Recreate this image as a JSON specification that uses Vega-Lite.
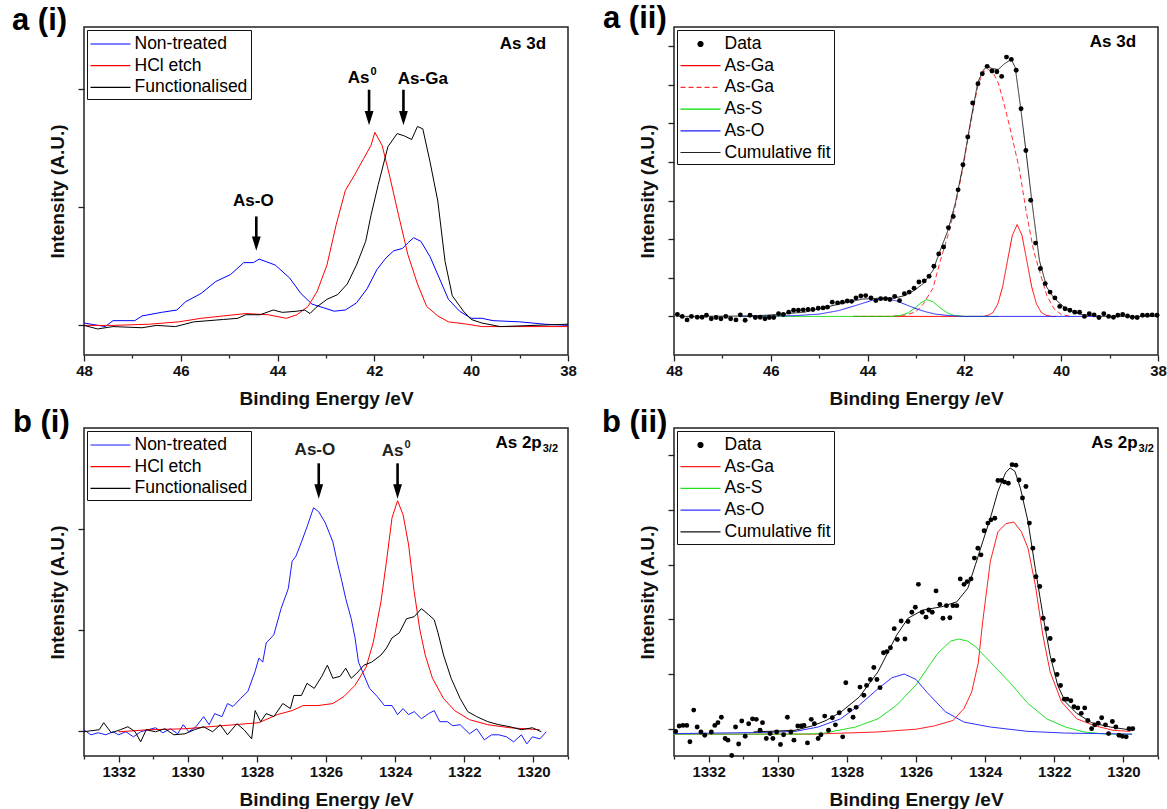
{
"$schema": "https://vega.github.io/schema/vega-lite/v6.json",
"background": "white",
"padding": {"left": 11, "top": 2, "right": 0, "bottom": 0},
"columns": 2,
"spacing": {"row": -3, "column": 23},
"config": {
  "font": "Liberation Sans",
  "view": {"stroke": "#222", "strokeWidth": 1.5},
  "axis": {"domain": false, "grid": false, "tickColor": "#222", "tickWidth": 1.3, "labelFont": "Liberation Sans", "labelFontSize": 15, "labelFontWeight": "bold", "labelColor": "#111", "titleFont": "Liberation Sans", "titleFontSize": 19, "titleFontWeight": "bold", "titleColor": "#111", "labelFlush": false},
  "axisX": {"titlePadding": 11, "labelPadding": 2},
  "axisY": {"titlePadding": 10, "tickSize": 6},
  "legend": {"orient": "top-left", "offset": 3, "strokeColor": "#111", "fillColor": "#ffffff", "padding": 3, "labelFont": "Liberation Sans", "labelFontSize": 17.5, "labelColor": "#000", "symbolSize": 400, "symbolOffset": 19.5, "labelOffset": 3, "rowPadding": 1.7, "symbolStrokeWidth": 1.2, "cornerRadius": 0, "symbolType": "M-3,0H1"},
  "title": {"font": "Liberation Sans", "fontSize": 31, "fontWeight": "bold", "color": "#000", "anchor": "start", "frame": "group", "offset": 0, "baseline": "alphabetic"}
},
"resolve": {"scale": {"x": "independent", "y": "independent", "color": "independent", "strokeDash": "independent"}, "legend": {"color": "independent"}},
"datasets": {
"a1": [
{"s":"Non-treated","x":48,"y":0.02},{"s":"Non-treated","x":47.56,"y":-0.01},{"s":"Non-treated","x":47.4,"y":0.04},{"s":"Non-treated","x":46.95,"y":0.04},{"s":"Non-treated","x":46.8,"y":0.08},{"s":"Non-treated","x":46.4,"y":0.11},{"s":"Non-treated","x":46.08,"y":0.13},{"s":"Non-treated","x":45.9,"y":0.2},{"s":"Non-treated","x":45.58,"y":0.27},{"s":"Non-treated","x":45.28,"y":0.37},{"s":"Non-treated","x":44.97,"y":0.43},{"s":"Non-treated","x":44.7,"y":0.53},{"s":"Non-treated","x":44.5,"y":0.53},{"s":"Non-treated","x":44.38,"y":0.56},{"s":"Non-treated","x":44.05,"y":0.51},{"s":"Non-treated","x":43.75,"y":0.4},{"s":"Non-treated","x":43.52,"y":0.27},{"s":"Non-treated","x":43.29,"y":0.18},{"s":"Non-treated","x":43.06,"y":0.15},{"s":"Non-treated","x":42.83,"y":0.12},{"s":"Non-treated","x":42.6,"y":0.13},{"s":"Non-treated","x":42.37,"y":0.19},{"s":"Non-treated","x":42.15,"y":0.31},{"s":"Non-treated","x":41.95,"y":0.47},{"s":"Non-treated","x":41.76,"y":0.57},{"s":"Non-treated","x":41.6,"y":0.63},{"s":"Non-treated","x":41.42,"y":0.65},{"s":"Non-treated","x":41.3,"y":0.7},{"s":"Non-treated","x":41.19,"y":0.74},{"s":"Non-treated","x":41.04,"y":0.71},{"s":"Non-treated","x":40.85,"y":0.58},{"s":"Non-treated","x":40.66,"y":0.4},{"s":"Non-treated","x":40.47,"y":0.22},{"s":"Non-treated","x":40.24,"y":0.12},{"s":"Non-treated","x":40.0,"y":0.06},{"s":"Non-treated","x":39.78,"y":0.06},{"s":"Non-treated","x":39.55,"y":0.04},{"s":"Non-treated","x":39.0,"y":0.03},{"s":"Non-treated","x":38.48,"y":0.01},{"s":"Non-treated","x":38,"y":0},
{"s":"HCl etch","x":48,"y":0},{"s":"HCl etch","x":47.4,"y":0},{"s":"HCl etch","x":46.65,"y":0.01},{"s":"HCl etch","x":46.04,"y":0.03},{"s":"HCl etch","x":45.58,"y":0.06},{"s":"HCl etch","x":45.12,"y":0.08},{"s":"HCl etch","x":44.66,"y":0.1},{"s":"HCl etch","x":44.2,"y":0.09},{"s":"HCl etch","x":43.82,"y":0.06},{"s":"HCl etch","x":43.6,"y":0.09},{"s":"HCl etch","x":43.37,"y":0.16},{"s":"HCl etch","x":43.18,"y":0.29},{"s":"HCl etch","x":42.98,"y":0.51},{"s":"HCl etch","x":42.79,"y":0.85},{"s":"HCl etch","x":42.6,"y":1.14},{"s":"HCl etch","x":42.41,"y":1.27},{"s":"HCl etch","x":42.22,"y":1.41},{"s":"HCl etch","x":42.07,"y":1.52},{"s":"HCl etch","x":41.99,"y":1.63},{"s":"HCl etch","x":41.84,"y":1.52},{"s":"HCl etch","x":41.69,"y":1.27},{"s":"HCl etch","x":41.5,"y":0.93},{"s":"HCl etch","x":41.31,"y":0.6},{"s":"HCl etch","x":41.11,"y":0.35},{"s":"HCl etch","x":40.92,"y":0.16},{"s":"HCl etch","x":40.69,"y":0.08},{"s":"HCl etch","x":40.47,"y":0.03},{"s":"HCl etch","x":40.08,"y":0.01},{"s":"HCl etch","x":39.78,"y":-0.01},{"s":"HCl etch","x":38,"y":-0.01},
{"s":"Functionalised","x":48,"y":0},{"s":"Functionalised","x":47.72,"y":-0.03},{"s":"Functionalised","x":47.4,"y":-0.01},{"s":"Functionalised","x":46.8,"y":-0.02},{"s":"Functionalised","x":46.5,"y":0},{"s":"Functionalised","x":46.11,"y":-0.01},{"s":"Functionalised","x":45.73,"y":0.03},{"s":"Functionalised","x":45.12,"y":0.05},{"s":"Functionalised","x":44.82,"y":0.06},{"s":"Functionalised","x":44.66,"y":0.09},{"s":"Functionalised","x":44.36,"y":0.09},{"s":"Functionalised","x":44.09,"y":0.13},{"s":"Functionalised","x":43.9,"y":0.11},{"s":"Functionalised","x":43.6,"y":0.12},{"s":"Functionalised","x":43.44,"y":0.13},{"s":"Functionalised","x":43.33,"y":0.1},{"s":"Functionalised","x":43.21,"y":0.15},{"s":"Functionalised","x":42.98,"y":0.22},{"s":"Functionalised","x":42.76,"y":0.26},{"s":"Functionalised","x":42.56,"y":0.35},{"s":"Functionalised","x":42.37,"y":0.51},{"s":"Functionalised","x":42.18,"y":0.71},{"s":"Functionalised","x":42.07,"y":0.93},{"s":"Functionalised","x":41.92,"y":1.19},{"s":"Functionalised","x":41.72,"y":1.51},{"s":"Functionalised","x":41.53,"y":1.62},{"s":"Functionalised","x":41.38,"y":1.6},{"s":"Functionalised","x":41.23,"y":1.57},{"s":"Functionalised","x":41.11,"y":1.68},{"s":"Functionalised","x":41.0,"y":1.66},{"s":"Functionalised","x":40.85,"y":1.38},{"s":"Functionalised","x":40.69,"y":1.05},{"s":"Functionalised","x":40.54,"y":0.54},{"s":"Functionalised","x":40.39,"y":0.25},{"s":"Functionalised","x":40.16,"y":0.12},{"s":"Functionalised","x":40.0,"y":0.05},{"s":"Functionalised","x":39.78,"y":0.02},{"s":"Functionalised","x":39.4,"y":-0.01},{"s":"Functionalised","x":38,"y":0.01}
],
"a1t": [{"t":"As-O","x":44.5,"y":1.05},{"t":"As-Ga","x":41.0,"y":2.08},{"t":"As 3d","x":38.93,"y":2.38}],
"a1s": [{"t":"As","u":"0","x":42.1,"y":2.09}],
"a1r": [{"x":44.44,"y":0.92,"y2":0.63},{"x":42.11,"y":1.99,"y2":1.69},{"x":41.4,"y":1.99,"y2":1.69}],
"a2": [
{"s":"Data","x":47.93,"y":0.05},{"s":"Data","x":47.83,"y":0},{"s":"Data","x":47.73,"y":-0.09},{"s":"Data","x":47.64,"y":0},{"s":"Data","x":47.52,"y":-0.02},{"s":"Data","x":47.42,"y":-0.02},{"s":"Data","x":47.33,"y":0.03},{"s":"Data","x":47.23,"y":-0.06},{"s":"Data","x":47.13,"y":-0.03},{"s":"Data","x":47.03,"y":-0.06},{"s":"Data","x":46.93,"y":0},{"s":"Data","x":46.83,"y":-0.06},{"s":"Data","x":46.72,"y":-0.09},{"s":"Data","x":46.63,"y":0.04},{"s":"Data","x":46.53,"y":-0.1},{"s":"Data","x":46.43,"y":0.03},{"s":"Data","x":46.32,"y":-0.03},{"s":"Data","x":46.22,"y":-0.02},{"s":"Data","x":46.12,"y":-0.06},{"s":"Data","x":46.03,"y":-0.03},{"s":"Data","x":45.94,"y":-0.03},{"s":"Data","x":45.84,"y":0.07},{"s":"Data","x":45.74,"y":0.05},{"s":"Data","x":45.63,"y":0.11},{"s":"Data","x":45.53,"y":0.16},{"s":"Data","x":45.43,"y":0.16},{"s":"Data","x":45.33,"y":0.17},{"s":"Data","x":45.23,"y":0.18},{"s":"Data","x":45.13,"y":0.18},{"s":"Data","x":45.02,"y":0.21},{"s":"Data","x":44.92,"y":0.22},{"s":"Data","x":44.83,"y":0.24},{"s":"Data","x":44.73,"y":0.37},{"s":"Data","x":44.62,"y":0.35},{"s":"Data","x":44.52,"y":0.37},{"s":"Data","x":44.42,"y":0.4},{"s":"Data","x":44.33,"y":0.39},{"s":"Data","x":44.24,"y":0.48},{"s":"Data","x":44.14,"y":0.53},{"s":"Data","x":44.04,"y":0.54},{"s":"Data","x":43.93,"y":0.48},{"s":"Data","x":43.83,"y":0.41},{"s":"Data","x":43.73,"y":0.46},{"s":"Data","x":43.63,"y":0.46},{"s":"Data","x":43.54,"y":0.44},{"s":"Data","x":43.44,"y":0.52},{"s":"Data","x":43.34,"y":0.41},{"s":"Data","x":43.24,"y":0.59},{"s":"Data","x":43.14,"y":0.63},{"s":"Data","x":43.04,"y":0.73},{"s":"Data","x":42.94,"y":0.89},{"s":"Data","x":42.83,"y":0.92},{"s":"Data","x":42.73,"y":1.04},{"s":"Data","x":42.63,"y":1.3},{"s":"Data","x":42.53,"y":1.62},{"s":"Data","x":42.43,"y":1.8},{"s":"Data","x":42.33,"y":2.3},{"s":"Data","x":42.23,"y":2.59},{"s":"Data","x":42.13,"y":3.28},{"s":"Data","x":42.03,"y":3.93},{"s":"Data","x":41.93,"y":4.65},{"s":"Data","x":41.83,"y":5.53},{"s":"Data","x":41.72,"y":6.03},{"s":"Data","x":41.63,"y":6.29},{"s":"Data","x":41.53,"y":6.48},{"s":"Data","x":41.43,"y":6.36},{"s":"Data","x":41.33,"y":6.34},{"s":"Data","x":41.23,"y":6.22},{"s":"Data","x":41.13,"y":6.72},{"s":"Data","x":41.03,"y":6.66},{"s":"Data","x":40.93,"y":6.38},{"s":"Data","x":40.83,"y":5.38},{"s":"Data","x":40.73,"y":4.3},{"s":"Data","x":40.63,"y":3.01},{"s":"Data","x":40.53,"y":1.9},{"s":"Data","x":40.43,"y":1.24},{"s":"Data","x":40.33,"y":0.85},{"s":"Data","x":40.23,"y":0.63},{"s":"Data","x":40.13,"y":0.48},{"s":"Data","x":40.03,"y":0.26},{"s":"Data","x":39.92,"y":0.2},{"s":"Data","x":39.82,"y":0.16},{"s":"Data","x":39.72,"y":0.11},{"s":"Data","x":39.62,"y":0.11},{"s":"Data","x":39.52,"y":0},{"s":"Data","x":39.42,"y":0.07},{"s":"Data","x":39.32,"y":0.04},{"s":"Data","x":39.22,"y":-0.03},{"s":"Data","x":39.12,"y":0.07},{"s":"Data","x":39.02,"y":0},{"s":"Data","x":38.92,"y":-0.02},{"s":"Data","x":38.83,"y":0.03},{"s":"Data","x":38.73,"y":0.05},{"s":"Data","x":38.63,"y":0.01},{"s":"Data","x":38.53,"y":-0.02},{"s":"Data","x":38.43,"y":-0.03},{"s":"Data","x":38.32,"y":0.03},{"s":"Data","x":38.22,"y":0.03},{"s":"Data","x":38.12,"y":0.04},{"s":"Data","x":38.02,"y":0.03},
{"s":"As-Ga","x":44.3,"y":0},{"s":"As-Ga","x":41.6,"y":0},{"s":"As-Ga","x":41.51,"y":0.03},{"s":"As-Ga","x":41.41,"y":0.1},{"s":"As-Ga","x":41.31,"y":0.32},{"s":"As-Ga","x":41.21,"y":0.77},{"s":"As-Ga","x":41.11,"y":1.44},{"s":"As-Ga","x":41.01,"y":2.1},{"s":"As-Ga","x":40.91,"y":2.38},{"s":"As-Ga","x":40.81,"y":2.1},{"s":"As-Ga","x":40.71,"y":1.44},{"s":"As-Ga","x":40.61,"y":0.77},{"s":"As-Ga","x":40.51,"y":0.32},{"s":"As-Ga","x":40.41,"y":0.1},{"s":"As-Ga","x":40.31,"y":0.03},{"s":"As-Ga","x":40.2,"y":0},{"s":"As-Ga","x":40.1,"y":0},
{"s":"As-Ga ","x":44.3,"y":0},{"s":"As-Ga ","x":43.5,"y":0},{"s":"As-Ga ","x":43.2,"y":0.04},{"s":"As-Ga ","x":43.0,"y":0.12},{"s":"As-Ga ","x":42.85,"y":0.32},{"s":"As-Ga ","x":42.65,"y":0.73},{"s":"As-Ga ","x":42.5,"y":1.43},{"s":"As-Ga ","x":42.34,"y":2.1},{"s":"As-Ga ","x":42.19,"y":2.85},{"s":"As-Ga ","x":42.03,"y":3.85},{"s":"As-Ga ","x":41.88,"y":4.95},{"s":"As-Ga ","x":41.72,"y":6.0},{"s":"As-Ga ","x":41.6,"y":6.35},{"s":"As-Ga ","x":41.5,"y":6.4},{"s":"As-Ga ","x":41.4,"y":6.3},{"s":"As-Ga ","x":41.3,"y":6.05},{"s":"As-Ga ","x":41.2,"y":5.6},{"s":"As-Ga ","x":41.07,"y":4.95},{"s":"As-Ga ","x":40.87,"y":3.85},{"s":"As-Ga ","x":40.72,"y":2.7},{"s":"As-Ga ","x":40.57,"y":1.7},{"s":"As-Ga ","x":40.43,"y":1.1},{"s":"As-Ga ","x":40.3,"y":0.55},{"s":"As-Ga ","x":40.15,"y":0.2},{"s":"As-Ga ","x":40.0,"y":0.05},{"s":"As-Ga ","x":39.8,"y":0},
{"s":"As-S","x":46.6,"y":0},{"s":"As-S","x":43.5,"y":0},{"s":"As-S","x":43.3,"y":0.03},{"s":"As-S","x":43.15,"y":0.1},{"s":"As-S","x":43.0,"y":0.24},{"s":"As-S","x":42.9,"y":0.35},{"s":"As-S","x":42.78,"y":0.44},{"s":"As-S","x":42.65,"y":0.38},{"s":"As-S","x":42.5,"y":0.22},{"s":"As-S","x":42.35,"y":0.09},{"s":"As-S","x":42.2,"y":0.02},{"s":"As-S","x":42.0,"y":0},{"s":"As-S","x":41.3,"y":0},
{"s":"As-O","x":46.6,"y":0},{"s":"As-O","x":45.5,"y":0.02},{"s":"As-O","x":45.0,"y":0.06},{"s":"As-O","x":44.6,"y":0.15},{"s":"As-O","x":44.2,"y":0.3},{"s":"As-O","x":43.9,"y":0.42},{"s":"As-O","x":43.62,"y":0.46},{"s":"As-O","x":43.4,"y":0.4},{"s":"As-O","x":43.2,"y":0.3},{"s":"As-O","x":43.0,"y":0.2},{"s":"As-O","x":42.8,"y":0.12},{"s":"As-O","x":42.6,"y":0.06},{"s":"As-O","x":42.3,"y":0.02},{"s":"As-O","x":42.0,"y":0},{"s":"As-O","x":39.2,"y":0},
{"s":"Cumulative fit","x":47.9,"y":0},{"s":"Cumulative fit","x":46.5,"y":0.01},{"s":"Cumulative fit","x":46.1,"y":0.03},{"s":"Cumulative fit","x":45.3,"y":0.11},{"s":"Cumulative fit","x":44.55,"y":0.33},{"s":"Cumulative fit","x":44.1,"y":0.45},{"s":"Cumulative fit","x":43.77,"y":0.47},{"s":"Cumulative fit","x":43.46,"y":0.47},{"s":"Cumulative fit","x":43.23,"y":0.54},{"s":"Cumulative fit","x":43.04,"y":0.67},{"s":"Cumulative fit","x":42.85,"y":0.85},{"s":"Cumulative fit","x":42.65,"y":1.19},{"s":"Cumulative fit","x":42.5,"y":1.71},{"s":"Cumulative fit","x":42.34,"y":2.23},{"s":"Cumulative fit","x":42.19,"y":2.92},{"s":"Cumulative fit","x":42.03,"y":3.9},{"s":"Cumulative fit","x":41.88,"y":5.0},{"s":"Cumulative fit","x":41.72,"y":6.08},{"s":"Cumulative fit","x":41.6,"y":6.4},{"s":"Cumulative fit","x":41.53,"y":6.47},{"s":"Cumulative fit","x":41.42,"y":6.42},{"s":"Cumulative fit","x":41.3,"y":6.4},{"s":"Cumulative fit","x":41.17,"y":6.55},{"s":"Cumulative fit","x":41.03,"y":6.66},{"s":"Cumulative fit","x":40.95,"y":6.45},{"s":"Cumulative fit","x":40.84,"y":5.43},{"s":"Cumulative fit","x":40.72,"y":4.2},{"s":"Cumulative fit","x":40.6,"y":2.92},{"s":"Cumulative fit","x":40.45,"y":1.45},{"s":"Cumulative fit","x":40.3,"y":0.76},{"s":"Cumulative fit","x":40.14,"y":0.46},{"s":"Cumulative fit","x":39.9,"y":0.2},{"s":"Cumulative fit","x":39.6,"y":0.05},{"s":"Cumulative fit","x":39.2,"y":0},{"s":"Cumulative fit","x":38.0,"y":0}
],
"a2t": [{"t":"As 3d","x":38.93,"y":7.11}],
"b1": [
{"s":"Non-treated","x":1333.0,"y":0.01},{"s":"Non-treated","x":1332.8,"y":-0.04},{"s":"Non-treated","x":1332.59,"y":-0.02},{"s":"Non-treated","x":1332.37,"y":-0.04},{"s":"Non-treated","x":1332.16,"y":-0.01},{"s":"Non-treated","x":1332.0,"y":-0.04},{"s":"Non-treated","x":1331.79,"y":-0.01},{"s":"Non-treated","x":1331.57,"y":-0.06},{"s":"Non-treated","x":1331.36,"y":-0.01},{"s":"Non-treated","x":1331.15,"y":0.01},{"s":"Non-treated","x":1330.93,"y":0.03},{"s":"Non-treated","x":1330.72,"y":-0.02},{"s":"Non-treated","x":1330.5,"y":0.02},{"s":"Non-treated","x":1330.29,"y":-0.03},{"s":"Non-treated","x":1330.13,"y":0.06},{"s":"Non-treated","x":1329.97,"y":-0.01},{"s":"Non-treated","x":1329.76,"y":0.04},{"s":"Non-treated","x":1329.54,"y":0.14},{"s":"Non-treated","x":1329.38,"y":0.06},{"s":"Non-treated","x":1329.22,"y":0.17},{"s":"Non-treated","x":1329.01,"y":0.14},{"s":"Non-treated","x":1328.85,"y":0.27},{"s":"Non-treated","x":1328.69,"y":0.24},{"s":"Non-treated","x":1328.47,"y":0.32},{"s":"Non-treated","x":1328.26,"y":0.39},{"s":"Non-treated","x":1328.05,"y":0.59},{"s":"Non-treated","x":1327.94,"y":0.72},{"s":"Non-treated","x":1327.83,"y":0.68},{"s":"Non-treated","x":1327.73,"y":0.87},{"s":"Non-treated","x":1327.51,"y":0.95},{"s":"Non-treated","x":1327.3,"y":1.21},{"s":"Non-treated","x":1327.09,"y":1.41},{"s":"Non-treated","x":1326.98,"y":1.68},{"s":"Non-treated","x":1326.87,"y":1.73},{"s":"Non-treated","x":1326.71,"y":1.87},{"s":"Non-treated","x":1326.55,"y":2.02},{"s":"Non-treated","x":1326.36,"y":2.21},{"s":"Non-treated","x":1326.21,"y":2.17},{"s":"Non-treated","x":1326.02,"y":2.06},{"s":"Non-treated","x":1325.8,"y":1.87},{"s":"Non-treated","x":1325.7,"y":1.71},{"s":"Non-treated","x":1325.54,"y":1.48},{"s":"Non-treated","x":1325.43,"y":1.31},{"s":"Non-treated","x":1325.27,"y":1.11},{"s":"Non-treated","x":1325.16,"y":0.92},{"s":"Non-treated","x":1325.06,"y":0.68},{"s":"Non-treated","x":1324.95,"y":0.59},{"s":"Non-treated","x":1324.74,"y":0.42},{"s":"Non-treated","x":1324.52,"y":0.34},{"s":"Non-treated","x":1324.31,"y":0.25},{"s":"Non-treated","x":1324.09,"y":0.25},{"s":"Non-treated","x":1323.93,"y":0.16},{"s":"Non-treated","x":1323.77,"y":0.22},{"s":"Non-treated","x":1323.61,"y":0.16},{"s":"Non-treated","x":1323.45,"y":0.19},{"s":"Non-treated","x":1323.24,"y":0.12},{"s":"Non-treated","x":1323.03,"y":0.17},{"s":"Non-treated","x":1322.87,"y":0.2},{"s":"Non-treated","x":1322.71,"y":0.09},{"s":"Non-treated","x":1322.49,"y":0.09},{"s":"Non-treated","x":1322.33,"y":0.05},{"s":"Non-treated","x":1322.12,"y":0.06},{"s":"Non-treated","x":1321.85,"y":-0.03},{"s":"Non-treated","x":1321.64,"y":0.02},{"s":"Non-treated","x":1321.42,"y":-0.09},{"s":"Non-treated","x":1321.21,"y":-0.04},{"s":"Non-treated","x":1321.0,"y":-0.04},{"s":"Non-treated","x":1320.78,"y":-0.06},{"s":"Non-treated","x":1320.57,"y":-0.11},{"s":"Non-treated","x":1320.35,"y":-0.04},{"s":"Non-treated","x":1320.19,"y":-0.13},{"s":"Non-treated","x":1320.03,"y":-0.06},{"s":"Non-treated","x":1319.81,"y":-0.08},{"s":"Non-treated","x":1319.63,"y":-0.01},
{"s":"HCl etch","x":1332.0,"y":-0.01},{"s":"HCl etch","x":1331.15,"y":0.01},{"s":"HCl etch","x":1330.08,"y":0.02},{"s":"HCl etch","x":1329.01,"y":0.05},{"s":"HCl etch","x":1327.94,"y":0.08},{"s":"HCl etch","x":1327.41,"y":0.16},{"s":"HCl etch","x":1326.98,"y":0.2},{"s":"HCl etch","x":1326.66,"y":0.25},{"s":"HCl etch","x":1326.23,"y":0.25},{"s":"HCl etch","x":1325.8,"y":0.27},{"s":"HCl etch","x":1325.48,"y":0.34},{"s":"HCl etch","x":1325.16,"y":0.45},{"s":"HCl etch","x":1324.84,"y":0.63},{"s":"HCl etch","x":1324.63,"y":0.88},{"s":"HCl etch","x":1324.41,"y":1.28},{"s":"HCl etch","x":1324.25,"y":1.68},{"s":"HCl etch","x":1324.09,"y":2.11},{"s":"HCl etch","x":1323.93,"y":2.28},{"s":"HCl etch","x":1323.77,"y":2.14},{"s":"HCl etch","x":1323.61,"y":1.84},{"s":"HCl etch","x":1323.45,"y":1.38},{"s":"HCl etch","x":1323.29,"y":1.01},{"s":"HCl etch","x":1323.13,"y":0.75},{"s":"HCl etch","x":1322.92,"y":0.52},{"s":"HCl etch","x":1322.6,"y":0.32},{"s":"HCl etch","x":1322.28,"y":0.2},{"s":"HCl etch","x":1321.85,"y":0.11},{"s":"HCl etch","x":1321.32,"y":0.06},{"s":"HCl etch","x":1320.68,"y":0.03},{"s":"HCl etch","x":1319.82,"y":0.01},
{"s":"Functionalised","x":1333.0,"y":-0.01},{"s":"Functionalised","x":1332.8,"y":0},{"s":"Functionalised","x":1332.56,"y":0.01},{"s":"Functionalised","x":1332.43,"y":0.08},{"s":"Functionalised","x":1332.21,"y":-0.02},{"s":"Functionalised","x":1331.95,"y":0.01},{"s":"Functionalised","x":1331.73,"y":0.04},{"s":"Functionalised","x":1331.52,"y":-0.01},{"s":"Functionalised","x":1331.36,"y":-0.11},{"s":"Functionalised","x":1331.2,"y":0.01},{"s":"Functionalised","x":1330.93,"y":-0.01},{"s":"Functionalised","x":1330.66,"y":0.02},{"s":"Functionalised","x":1330.4,"y":-0.04},{"s":"Functionalised","x":1330.08,"y":-0.03},{"s":"Functionalised","x":1329.81,"y":0.01},{"s":"Functionalised","x":1329.54,"y":0.04},{"s":"Functionalised","x":1329.28,"y":-0.01},{"s":"Functionalised","x":1329.06,"y":0.06},{"s":"Functionalised","x":1328.85,"y":-0.04},{"s":"Functionalised","x":1328.58,"y":0.07},{"s":"Functionalised","x":1328.37,"y":0.01},{"s":"Functionalised","x":1328.15,"y":-0.08},{"s":"Functionalised","x":1328.05,"y":0.2},{"s":"Functionalised","x":1327.89,"y":0.09},{"s":"Functionalised","x":1327.73,"y":0.17},{"s":"Functionalised","x":1327.51,"y":0.14},{"s":"Functionalised","x":1327.25,"y":0.27},{"s":"Functionalised","x":1327.03,"y":0.22},{"s":"Functionalised","x":1326.93,"y":0.35},{"s":"Functionalised","x":1326.71,"y":0.35},{"s":"Functionalised","x":1326.55,"y":0.47},{"s":"Functionalised","x":1326.34,"y":0.42},{"s":"Functionalised","x":1326.12,"y":0.54},{"s":"Functionalised","x":1325.96,"y":0.65},{"s":"Functionalised","x":1325.8,"y":0.52},{"s":"Functionalised","x":1325.59,"y":0.54},{"s":"Functionalised","x":1325.43,"y":0.62},{"s":"Functionalised","x":1325.27,"y":0.52},{"s":"Functionalised","x":1325.11,"y":0.57},{"s":"Functionalised","x":1324.9,"y":0.65},{"s":"Functionalised","x":1324.68,"y":0.68},{"s":"Functionalised","x":1324.41,"y":0.75},{"s":"Functionalised","x":1324.25,"y":0.82},{"s":"Functionalised","x":1324.09,"y":0.92},{"s":"Functionalised","x":1323.88,"y":0.97},{"s":"Functionalised","x":1323.67,"y":1.11},{"s":"Functionalised","x":1323.45,"y":1.13},{"s":"Functionalised","x":1323.24,"y":1.21},{"s":"Functionalised","x":1323.03,"y":1.15},{"s":"Functionalised","x":1322.87,"y":1.1},{"s":"Functionalised","x":1322.76,"y":0.97},{"s":"Functionalised","x":1322.6,"y":0.75},{"s":"Functionalised","x":1322.38,"y":0.52},{"s":"Functionalised","x":1322.12,"y":0.32},{"s":"Functionalised","x":1321.9,"y":0.19},{"s":"Functionalised","x":1321.64,"y":0.14},{"s":"Functionalised","x":1321.32,"y":0.09},{"s":"Functionalised","x":1321.0,"y":0.06},{"s":"Functionalised","x":1320.68,"y":0.04},{"s":"Functionalised","x":1320.35,"y":0.01},{"s":"Functionalised","x":1320.03,"y":0.03},{"s":"Functionalised","x":1319.77,"y":-0.01}
],
"b1t": [{"t":"As-O","x":1326.32,"y":2.78}],
"b1s": [{"t":"As","u":"0","x":1323.76,"y":2.77}],
"b1u": [{"t":"As 2p","u":"3/2","x":1319.76,"y":2.85}],
"b1r": [{"x":1326.21,"y":2.65,"y2":2.3},{"x":1323.93,"y":2.65,"y2":2.3}],
"b2": [
{"s":"Data","x":1332.95,"y":-0.05},{"s":"Data","x":1332.85,"y":0.05},{"s":"Data","x":1332.74,"y":0.06},{"s":"Data","x":1332.63,"y":0.06},{"s":"Data","x":1332.54,"y":-0.24},{"s":"Data","x":1332.43,"y":0.34},{"s":"Data","x":1332.33,"y":0.03},{"s":"Data","x":1332.22,"y":-0.06},{"s":"Data","x":1332.11,"y":-0.12},{"s":"Data","x":1331.92,"y":-0.06},{"s":"Data","x":1331.82,"y":0.06},{"s":"Data","x":1331.73,"y":0.11},{"s":"Data","x":1331.63,"y":0.21},{"s":"Data","x":1331.52,"y":-0.18},{"s":"Data","x":1331.44,"y":-0.21},{"s":"Data","x":1331.33,"y":-0.49},{"s":"Data","x":1331.22,"y":0.03},{"s":"Data","x":1331.13,"y":-0.28},{"s":"Data","x":1331.04,"y":0.14},{"s":"Data","x":1330.94,"y":-0.14},{"s":"Data","x":1330.84,"y":0.09},{"s":"Data","x":1330.73,"y":0.18},{"s":"Data","x":1330.62,"y":0.17},{"s":"Data","x":1330.51,"y":-0.03},{"s":"Data","x":1330.44,"y":0.11},{"s":"Data","x":1330.33,"y":-0.18},{"s":"Data","x":1330.22,"y":-0.09},{"s":"Data","x":1330.14,"y":-0.18},{"s":"Data","x":1330.03,"y":-0.06},{"s":"Data","x":1329.92,"y":-0.29},{"s":"Data","x":1329.83,"y":-0.11},{"s":"Data","x":1329.72,"y":0.21},{"s":"Data","x":1329.62,"y":-0.06},{"s":"Data","x":1329.53,"y":-0.21},{"s":"Data","x":1329.42,"y":0.05},{"s":"Data","x":1329.32,"y":0.05},{"s":"Data","x":1329.24,"y":0.06},{"s":"Data","x":1329.14,"y":-0.26},{"s":"Data","x":1329.03,"y":0.17},{"s":"Data","x":1328.94,"y":0.09},{"s":"Data","x":1328.83,"y":-0.18},{"s":"Data","x":1328.75,"y":-0.11},{"s":"Data","x":1328.64,"y":0.23},{"s":"Data","x":1328.53,"y":-0.03},{"s":"Data","x":1328.42,"y":0.2},{"s":"Data","x":1328.33,"y":0.07},{"s":"Data","x":1328.22,"y":0.29},{"s":"Data","x":1328.12,"y":-0.15},{"s":"Data","x":1328.03,"y":0.84},{"s":"Data","x":1327.92,"y":0.34},{"s":"Data","x":1327.82,"y":0.21},{"s":"Data","x":1327.73,"y":0.39},{"s":"Data","x":1327.62,"y":0.76},{"s":"Data","x":1327.51,"y":0.61},{"s":"Data","x":1327.43,"y":0.79},{"s":"Data","x":1327.32,"y":0.9},{"s":"Data","x":1327.22,"y":1.12},{"s":"Data","x":1327.13,"y":0.9},{"s":"Data","x":1327.04,"y":0.75},{"s":"Data","x":1326.94,"y":1.39},{"s":"Data","x":1326.84,"y":1.41},{"s":"Data","x":1326.74,"y":1.48},{"s":"Data","x":1326.63,"y":1.83},{"s":"Data","x":1326.54,"y":1.63},{"s":"Data","x":1326.43,"y":1.97},{"s":"Data","x":1326.32,"y":1.64},{"s":"Data","x":1326.23,"y":1.96},{"s":"Data","x":1326.12,"y":2.13},{"s":"Data","x":1326.02,"y":2.22},{"s":"Data","x":1325.93,"y":2.64},{"s":"Data","x":1325.82,"y":2.13},{"s":"Data","x":1325.71,"y":2.04},{"s":"Data","x":1325.63,"y":2.17},{"s":"Data","x":1325.53,"y":2.13},{"s":"Data","x":1325.42,"y":2.52},{"s":"Data","x":1325.31,"y":2.27},{"s":"Data","x":1325.22,"y":2.02},{"s":"Data","x":1325.12,"y":2.25},{"s":"Data","x":1325.02,"y":2.03},{"s":"Data","x":1324.93,"y":2.25},{"s":"Data","x":1324.82,"y":2.25},{"s":"Data","x":1324.72,"y":2.74},{"s":"Data","x":1324.61,"y":2.64},{"s":"Data","x":1324.52,"y":2.69},{"s":"Data","x":1324.41,"y":2.74},{"s":"Data","x":1324.31,"y":3.12},{"s":"Data","x":1324.21,"y":3.3},{"s":"Data","x":1324.12,"y":3.18},{"s":"Data","x":1324.03,"y":3.62},{"s":"Data","x":1323.92,"y":3.76},{"s":"Data","x":1323.83,"y":3.82},{"s":"Data","x":1323.72,"y":3.85},{"s":"Data","x":1323.63,"y":4.54},{"s":"Data","x":1323.52,"y":4.54},{"s":"Data","x":1323.44,"y":4.51},{"s":"Data","x":1323.33,"y":4.49},{"s":"Data","x":1323.22,"y":4.83},{"s":"Data","x":1323.11,"y":4.82},{"s":"Data","x":1323.02,"y":4.55},{"s":"Data","x":1322.92,"y":4.22},{"s":"Data","x":1322.82,"y":4.43},{"s":"Data","x":1322.72,"y":3.76},{"s":"Data","x":1322.62,"y":3.3},{"s":"Data","x":1322.53,"y":2.78},{"s":"Data","x":1322.42,"y":2.6},{"s":"Data","x":1322.32,"y":2.02},{"s":"Data","x":1322.22,"y":1.83},{"s":"Data","x":1322.12,"y":1.65},{"s":"Data","x":1322.03,"y":1.25},{"s":"Data","x":1321.92,"y":0.99},{"s":"Data","x":1321.82,"y":0.79},{"s":"Data","x":1321.71,"y":0.54},{"s":"Data","x":1321.63,"y":0.54},{"s":"Data","x":1321.52,"y":0.51},{"s":"Data","x":1321.43,"y":0.4},{"s":"Data","x":1321.32,"y":0.38},{"s":"Data","x":1321.22,"y":0.28},{"s":"Data","x":1321.12,"y":0.38},{"s":"Data","x":1321.03,"y":0.15},{"s":"Data","x":1320.92,"y":0},{"s":"Data","x":1320.83,"y":0.07},{"s":"Data","x":1320.73,"y":0.1},{"s":"Data","x":1320.63,"y":0.2},{"s":"Data","x":1320.52,"y":0.07},{"s":"Data","x":1320.43,"y":-0.09},{"s":"Data","x":1320.32,"y":0.13},{"s":"Data","x":1320.22,"y":0.03},{"s":"Data","x":1320.13,"y":-0.12},{"s":"Data","x":1320.03,"y":-0.14},{"s":"Data","x":1319.92,"y":-0.15},{"s":"Data","x":1319.84,"y":0},{"s":"Data","x":1319.73,"y":0},
{"s":"As-Ga","x":1333,"y":-0.1},{"s":"As-Ga","x":1329,"y":-0.1},{"s":"As-Ga","x":1327.1,"y":-0.06},{"s":"As-Ga","x":1326.0,"y":-0.01},{"s":"As-Ga","x":1325.47,"y":0.05},{"s":"As-Ga","x":1324.93,"y":0.15},{"s":"As-Ga","x":1324.61,"y":0.37},{"s":"As-Ga","x":1324.39,"y":0.67},{"s":"As-Ga","x":1324.2,"y":1.2},{"s":"As-Ga","x":1324.07,"y":1.96},{"s":"As-Ga","x":1323.85,"y":3.06},{"s":"As-Ga","x":1323.63,"y":3.6},{"s":"As-Ga","x":1323.4,"y":3.75},{"s":"As-Ga","x":1323.17,"y":3.78},{"s":"As-Ga","x":1322.95,"y":3.6},{"s":"As-Ga","x":1322.76,"y":3.3},{"s":"As-Ga","x":1322.55,"y":2.63},{"s":"As-Ga","x":1322.33,"y":1.71},{"s":"As-Ga","x":1322.12,"y":1.04},{"s":"As-Ga","x":1321.79,"y":0.49},{"s":"As-Ga","x":1321.35,"y":0.18},{"s":"As-Ga","x":1320.81,"y":0.05},{"s":"As-Ga","x":1320.3,"y":-0.03},{"s":"As-Ga","x":1319.8,"y":-0.05},
{"s":"As-S","x":1333,"y":-0.1},{"s":"As-S","x":1329.5,"y":-0.1},{"s":"As-S","x":1328.73,"y":-0.09},{"s":"As-S","x":1327.75,"y":0.03},{"s":"As-S","x":1327.1,"y":0.18},{"s":"As-S","x":1326.56,"y":0.43},{"s":"As-S","x":1326.0,"y":0.8},{"s":"As-S","x":1325.37,"y":1.38},{"s":"As-S","x":1325.0,"y":1.6},{"s":"As-S","x":1324.77,"y":1.64},{"s":"As-S","x":1324.5,"y":1.6},{"s":"As-S","x":1324.28,"y":1.5},{"s":"As-S","x":1323.85,"y":1.22},{"s":"As-S","x":1323.31,"y":0.86},{"s":"As-S","x":1322.76,"y":0.46},{"s":"As-S","x":1322.22,"y":0.18},{"s":"As-S","x":1321.68,"y":0.03},{"s":"As-S","x":1321.14,"y":-0.06},{"s":"As-S","x":1320.5,"y":-0.1},{"s":"As-S","x":1319.75,"y":-0.1},
{"s":"As-O","x":1333,"y":-0.09},{"s":"As-O","x":1330.5,"y":-0.07},{"s":"As-O","x":1329.5,"y":-0.05},{"s":"As-O","x":1328.83,"y":0.03},{"s":"As-O","x":1328.18,"y":0.18},{"s":"As-O","x":1327.64,"y":0.43},{"s":"As-O","x":1327.1,"y":0.73},{"s":"As-O","x":1326.7,"y":0.93},{"s":"As-O","x":1326.34,"y":1.0},{"s":"As-O","x":1326.0,"y":0.9},{"s":"As-O","x":1325.69,"y":0.67},{"s":"As-O","x":1325.15,"y":0.31},{"s":"As-O","x":1324.61,"y":0.12},{"s":"As-O","x":1323.85,"y":0.03},{"s":"As-O","x":1322.76,"y":-0.05},{"s":"As-O","x":1321.7,"y":-0.08},{"s":"As-O","x":1319.75,"y":-0.1},
{"s":"Cumulative fit","x":1330.7,"y":-0.06},{"s":"Cumulative fit","x":1329.5,"y":-0.03},{"s":"Cumulative fit","x":1329.0,"y":0.05},{"s":"Cumulative fit","x":1328.6,"y":0.15},{"s":"Cumulative fit","x":1328.18,"y":0.3},{"s":"Cumulative fit","x":1327.64,"y":0.58},{"s":"Cumulative fit","x":1327.1,"y":1.04},{"s":"Cumulative fit","x":1326.56,"y":1.71},{"s":"Cumulative fit","x":1326.23,"y":2.02},{"s":"Cumulative fit","x":1325.8,"y":2.17},{"s":"Cumulative fit","x":1325.26,"y":2.23},{"s":"Cumulative fit","x":1324.82,"y":2.32},{"s":"Cumulative fit","x":1324.5,"y":2.57},{"s":"Cumulative fit","x":1324.28,"y":3.0},{"s":"Cumulative fit","x":1324.07,"y":3.42},{"s":"Cumulative fit","x":1323.85,"y":3.85},{"s":"Cumulative fit","x":1323.63,"y":4.34},{"s":"Cumulative fit","x":1323.41,"y":4.68},{"s":"Cumulative fit","x":1323.28,"y":4.77},{"s":"Cumulative fit","x":1323.14,"y":4.71},{"s":"Cumulative fit","x":1322.98,"y":4.4},{"s":"Cumulative fit","x":1322.76,"y":3.79},{"s":"Cumulative fit","x":1322.55,"y":2.93},{"s":"Cumulative fit","x":1322.33,"y":2.08},{"s":"Cumulative fit","x":1322.12,"y":1.34},{"s":"Cumulative fit","x":1321.9,"y":0.79},{"s":"Cumulative fit","x":1321.68,"y":0.49},{"s":"Cumulative fit","x":1321.35,"y":0.28},{"s":"Cumulative fit","x":1320.92,"y":0.11},{"s":"Cumulative fit","x":1320.38,"y":0.03},{"s":"Cumulative fit","x":1319.73,"y":-0.03}
],
"b2u": [{"t":"As 2p","u":"3/2","x":1319.59,"y":5.23}]
},
"concat": [
{
 "width": 484, "height": 328,
 "title": {"text": "a (i)", "dx": -72, "dy": 14},
 "encoding": {
   "x": {"field": "x", "type": "quantitative", "title": "Binding Energy /eV", "scale": {"domain": [38, 48], "reverse": true, "nice": false, "zero": false}, "axis": {"values": [38,39,40,41,42,43,44,45,46,47,48], "format": "d", "labelExpr": "datum.value % 2 === 0 ? datum.label : ''", "tickSize": {"condition": {"test": "datum.value % 2 === 0", "value": 6}, "value": 3}}},
   "y": {"field": "y", "type": "quantitative", "title": "Intensity (A.U.)", "scale": {"domain": [-0.25, 2.52], "nice": false, "zero": false}, "axis": {"values": [0,1,2], "labels": false}}
 },
 "layer": [
  {"data": {"name": "a1"}, "mark": {"type": "line", "strokeWidth": 1}, "encoding": {"color": {"field": "s", "type": "nominal", "scale": {"domain": ["Non-treated","HCl etch","Functionalised"], "range": ["#0000ff","#ff0000","#000000"]}, "legend": {"title": null}}}},
  {"data": {"name": "a1t"}, "mark": {"type": "text", "fontSize": 17, "fontWeight": "bold", "align": "center", "baseline": "middle", "color": "#000"}, "encoding": {"text": {"field": "t"}}},
  {"data": {"name": "a1s"}, "mark": {"type": "text", "fontSize": 17, "fontWeight": "bold", "align": "right", "baseline": "middle", "color": "#000"}, "encoding": {"text": {"field": "t"}}},
  {"data": {"name": "a1s"}, "mark": {"type": "text", "fontSize": 11, "fontWeight": "bold", "align": "left", "baseline": "middle", "dx": 1, "dy": -6, "color": "#000"}, "encoding": {"text": {"field": "u"}}},
  {"data": {"name": "a1r"}, "mark": {"type": "rule", "strokeWidth": 2.6, "color": "#000", "y2Offset": -6}, "encoding": {"y2": {"field": "y2"}}},
  {"data": {"name": "a1r"}, "mark": {"type": "point", "shape": "M-0.55,-1.8L0.55,-1.8L0,0Z", "filled": true, "size": 256, "color": "#000", "opacity": 1}, "encoding": {"y": {"field": "y2", "type": "quantitative", "title": "Intensity (A.U.)"}}}
 ]
},
{
 "width": 484, "height": 328,
 "title": {"text": "a (ii)", "dx": -71, "dy": 12},
 "encoding": {
   "x": {"field": "x", "type": "quantitative", "title": "Binding Energy /eV", "scale": {"domain": [38, 48], "reverse": true, "nice": false, "zero": false}, "axis": {"values": [38,39,40,41,42,43,44,45,46,47,48], "format": "d", "labelExpr": "datum.value % 2 === 0 ? datum.label : ''", "tickSize": {"condition": {"test": "datum.value % 2 === 0", "value": 6}, "value": 3}}},
   "y": {"field": "y", "type": "quantitative", "title": "Intensity (A.U.)", "scale": {"domain": [-1, 7.5], "nice": false, "zero": false}, "axis": {"values": [0,1,2,3,4,5,6,7], "labels": false}}
 },
 "layer": [
  {"data": {"name": "a2"}, "transform": [{"filter": "datum.s !== 'Data'"}], "mark": {"type": "line", "strokeWidth": 1}, "encoding": {
     "color": {"field": "s", "type": "nominal", "scale": {"domain": ["Data","As-Ga","As-Ga ","As-S","As-O","Cumulative fit"], "range": ["#000000","#ff0000","#ff3030","#00e000","#2020ff","#222222"]}, "legend": {"title": null, "encode": {"symbols": {"update": {"shape": {"signal": "datum.value === 'Data' ? 'M-1.25,0A0.25,0.25,0,1,0,-0.75,0A0.25,0.25,0,1,0,-1.25,0Z' : 'M-3,0H1'"}, "fill": {"signal": "datum.value === 'Data' ? '#000' : 'transparent'"}, "strokeDash": {"signal": "datum.value === 'As-Ga ' ? [5,3] : [1,0]"}}}}}},
     "strokeDash": {"field": "s", "type": "nominal", "scale": {"domain": ["As-Ga","As-Ga ","As-S","As-O","Cumulative fit"], "range": [[1,0],[5,3],[1,0],[1,0],[1,0]]}, "legend": null}}},
  {"data": {"name": "a2"}, "transform": [{"filter": "datum.s === 'Data'"}], "mark": {"type": "circle", "size": 24, "opacity": 1}, "encoding": {
     "color": {"field": "s", "type": "nominal", "scale": {"domain": ["Data","As-Ga","As-Ga ","As-S","As-O","Cumulative fit"], "range": ["#000000","#ff0000","#ff3030","#00e000","#2020ff","#222222"]}, "legend": {"title": null}}}},
  {"data": {"name": "a2t"}, "mark": {"type": "text", "fontSize": 17, "fontWeight": "bold", "align": "center", "baseline": "middle", "color": "#000"}, "encoding": {"text": {"field": "t"}}}
 ]
},
{
 "width": 484, "height": 328,
 "title": {"text": "b (i)", "dx": -71, "dy": 15},
 "encoding": {
   "x": {"field": "x", "type": "quantitative", "title": "Binding Energy /eV", "scale": {"domain": [1319, 1333], "reverse": true, "nice": false, "zero": false}, "axis": {"values": [1319,1320,1321,1322,1323,1324,1325,1326,1327,1328,1329,1330,1331,1332,1333], "format": "d", "labelExpr": "datum.value % 2 === 0 ? datum.label : ''", "tickSize": {"condition": {"test": "datum.value % 2 === 0", "value": 6}, "value": 3}}},
   "y": {"field": "y", "type": "quantitative", "title": "Intensity (A.U.)", "scale": {"domain": [-0.25, 3.0], "nice": false, "zero": false}, "axis": {"values": [0,1,2], "labels": false}}
 },
 "layer": [
  {"data": {"name": "b1"}, "mark": {"type": "line", "strokeWidth": 1}, "encoding": {"color": {"field": "s", "type": "nominal", "scale": {"domain": ["Non-treated","HCl etch","Functionalised"], "range": ["#1a1aff","#ff0000","#000000"]}, "legend": {"title": null}}}},
  {"data": {"name": "b1t"}, "mark": {"type": "text", "fontSize": 17, "fontWeight": "bold", "align": "center", "baseline": "middle", "color": "#222"}, "encoding": {"text": {"field": "t"}}},
  {"data": {"name": "b1s"}, "mark": {"type": "text", "fontSize": 17, "fontWeight": "bold", "align": "right", "baseline": "middle", "color": "#222"}, "encoding": {"text": {"field": "t"}}},
  {"data": {"name": "b1s"}, "mark": {"type": "text", "fontSize": 11, "fontWeight": "bold", "align": "left", "baseline": "middle", "dx": 1, "dy": -6, "color": "#222"}, "encoding": {"text": {"field": "u"}}},
  {"data": {"name": "b1u"}, "mark": {"type": "text", "fontSize": 17, "fontWeight": "bold", "align": "right", "baseline": "middle", "color": "#000"}, "encoding": {"text": {"field": "t"}}},
  {"data": {"name": "b1u"}, "mark": {"type": "text", "fontSize": 11, "fontWeight": "bold", "align": "left", "baseline": "middle", "dx": 1, "dy": 6, "color": "#000"}, "encoding": {"text": {"field": "u"}}},
  {"data": {"name": "b1r"}, "mark": {"type": "rule", "strokeWidth": 2.6, "color": "#000", "y2Offset": -6}, "encoding": {"y2": {"field": "y2"}}},
  {"data": {"name": "b1r"}, "mark": {"type": "point", "shape": "M-0.55,-1.8L0.55,-1.8L0,0Z", "filled": true, "size": 256, "color": "#000", "opacity": 1}, "encoding": {"y": {"field": "y2", "type": "quantitative", "title": "Intensity (A.U.)"}}}
 ]
},
{
 "width": 484, "height": 328,
 "title": {"text": "b (ii)", "dx": -72, "dy": 15},
 "encoding": {
   "x": {"field": "x", "type": "quantitative", "title": "Binding Energy /eV", "scale": {"domain": [1319, 1333], "reverse": true, "nice": false, "zero": false}, "axis": {"values": [1319,1320,1321,1322,1323,1324,1325,1326,1327,1328,1329,1330,1331,1332,1333], "format": "d", "labelExpr": "datum.value % 2 === 0 ? datum.label : ''", "tickSize": {"condition": {"test": "datum.value % 2 === 0", "value": 6}, "value": 3}}},
   "y": {"field": "y", "type": "quantitative", "title": "Intensity (A.U.)", "scale": {"domain": [-0.5, 5.5], "nice": false, "zero": false}, "axis": {"values": [0,1,2,3,4,5], "labels": false}}
 },
 "layer": [
  {"data": {"name": "b2"}, "transform": [{"filter": "datum.s !== 'Data'"}], "mark": {"type": "line", "strokeWidth": 1}, "encoding": {
     "color": {"field": "s", "type": "nominal", "scale": {"domain": ["Data","As-Ga","As-S","As-O","Cumulative fit"], "range": ["#000000","#ff2020","#20e020","#3030ff","#111111"]}, "legend": {"title": null, "encode": {"symbols": {"update": {"shape": {"signal": "datum.value === 'Data' ? 'M-1.25,0A0.25,0.25,0,1,0,-0.75,0A0.25,0.25,0,1,0,-1.25,0Z' : 'M-3,0H1'"}, "fill": {"signal": "datum.value === 'Data' ? '#000' : 'transparent'"}}}}}}}},
  {"data": {"name": "b2"}, "transform": [{"filter": "datum.s === 'Data'"}], "mark": {"type": "circle", "size": 24, "opacity": 1}, "encoding": {
     "color": {"field": "s", "type": "nominal", "scale": {"domain": ["Data","As-Ga","As-S","As-O","Cumulative fit"], "range": ["#000000","#ff2020","#20e020","#3030ff","#111111"]}, "legend": {"title": null}}}},
  {"data": {"name": "b2u"}, "mark": {"type": "text", "fontSize": 17, "fontWeight": "bold", "align": "right", "baseline": "middle", "color": "#000"}, "encoding": {"text": {"field": "t"}}},
  {"data": {"name": "b2u"}, "mark": {"type": "text", "fontSize": 11, "fontWeight": "bold", "align": "left", "baseline": "middle", "dx": 1, "dy": 6, "color": "#000"}, "encoding": {"text": {"field": "u"}}}
 ]
}
]
}
